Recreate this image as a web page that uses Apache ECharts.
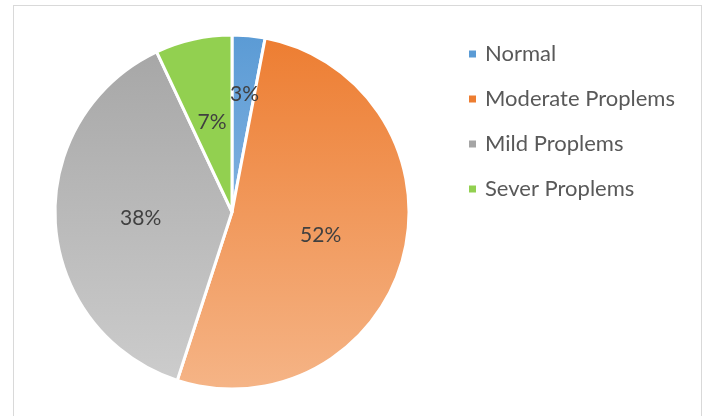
<!DOCTYPE html>
<html>
<head>
  <meta charset="utf-8">
  <script src="https://cdn.jsdelivr.net/npm/echarts@6/dist/echarts.min.js"></script>
  <style>
    html, body { margin: 0; padding: 0; background: #fff; }
    #frame { position: absolute; left: 13px; top: 5px; width: 689px; height: 420px; border: 1px solid #d9d9d9; box-sizing: border-box; }
    #main { position: absolute; left: 0; top: 0; width: 705px; height: 416px; }
  </style>
</head>
<body>
  <div id="frame"></div>
  <div id="main"></div>
  <script type="text/javascript">
    // data
    var categories = ['Normal', 'Moderate Proplems', 'Mild Proplems', 'Sever Proplems'];
    var values = [3, 52, 38, 7];
    // gradient colours (top, bottom)
    var topColors = ['#5b9bd5', '#ed7d31', '#a5a5a5', '#92d050'];
    var bottomColors = ['#a4c6e9', '#f5b486', '#cdcdcd', '#92d050'];

    var cx = 232, cy = 212, r = 177;

    function grad(i) {
      return new echarts.graphic.LinearGradient(0, cy - r, 0, cy + r, [
        { offset: 0, color: topColors[i] },
        { offset: 1, color: bottomColors[i] }
      ], true);
    }

    var pieData = categories.map(function (name, i) {
      var item = {
        name: name,
        value: values[i],
        itemStyle: { color: grad(i) }
      };
      if (i === 0) {
        // Excel pushed this small label further out
        item.label = { offset: [4, -27] };
      }
      return item;
    });

    var myChart = echarts.init(document.getElementById('main'));
    var option = {
      animation: false,
      legend: {
        orient: 'vertical',
        left: 467,
        top: 42,
        padding: 0,
        itemWidth: 9,
        itemHeight: 9,
        itemGap: 21,
        icon: 'rect',
        data: categories.map(function (name, i) {
          return { name: name, itemStyle: { color: grad(i) } };
        }),
        textStyle: { fontFamily: 'Lato', fontSize: 22, lineHeight: 24, color: '#595959', padding: [0, 0, 0, 3] }
      },
      series: [{
        type: 'pie',
        center: [cx, cy],
        radius: [0, r],
        startAngle: 90,
        clockwise: true,
        itemStyle: { borderColor: '#fff', borderWidth: 3 },
        label: {
          position: 'inside',
          formatter: '{d}%',
          fontFamily: 'Lato',
          fontSize: 21,
          color: '#404040'
        },
        labelLine: { show: false },
        emphasis: { disabled: true },
        data: pieData
      }]
    };
    myChart.setOption(option);
  </script>
</body>
</html>
